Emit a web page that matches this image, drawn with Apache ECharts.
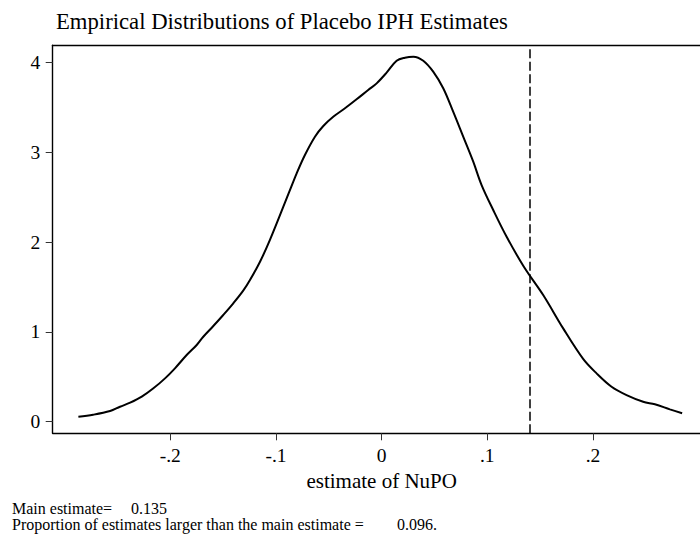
<!DOCTYPE html>
<html>
<head>
<meta charset="utf-8">
<script src="https://cdn.jsdelivr.net/npm/echarts@6/dist/echarts.min.js"></script>
<style>
  html, body { margin: 0; padding: 0; background: #ffffff; }
  #chart { width: 700px; height: 534px; }
</style>
</head>
<body>
<div id="chart"></div>
<script>
// Kernel density of placebo estimates
const titleText = 'Empirical Distributions of Placebo IPH Estimates';
const xAxisTitle = 'estimate of NuPO';

const estimateX = [
  -0.287, -0.273, -0.257, -0.2476, -0.238, -0.227, -0.216, -0.205, -0.1956, -0.1845,
  -0.175, -0.1688, -0.1593, -0.1499, -0.1404, -0.131, -0.1246, -0.1151, -0.1057, -0.0868,
  -0.0804, -0.0726, -0.0631, -0.0552, -0.0458, -0.0347, -0.0237, -0.0127, -0.0047, 0.0047,
  0.0142, 0.022, 0.030, 0.0394, 0.0488, 0.0583, 0.0677, 0.0772, 0.0867, 0.0946,
  0.1056, 0.1183, 0.1346, 0.1529, 0.1718, 0.1907, 0.2034, 0.2176, 0.2318, 0.2475,
  0.2586, 0.2728, 0.2844
];
const densityY = [
  0.056, 0.078, 0.119, 0.167, 0.212, 0.279, 0.372, 0.483, 0.595, 0.743,
  0.855, 0.947, 1.066, 1.189, 1.319, 1.460, 1.579, 1.783, 2.025, 2.58,
  2.768, 2.972, 3.176, 3.295, 3.398, 3.492, 3.592, 3.696, 3.770, 3.889,
  4.022, 4.056, 4.067, 4.022, 3.900, 3.715, 3.454, 3.176, 2.897, 2.637,
  2.359, 2.061, 1.727, 1.412, 1.04, 0.70, 0.539, 0.390, 0.297, 0.223,
  0.194, 0.138, 0.094
];

const xTicks = [-0.2, -0.1, 0, 0.1, 0.2];
const xTickLabels = ['-.2', '-.1', '0', '.1', '.2'];
const yTicks = [0, 1, 2, 3, 4];
const yTickLabels = ['0', '1', '2', '3', '4'];

const mainEstimate = 0.135;
const shareLarger = 0.096;

const FONT = '"Liberation Serif", "Times New Roman", serif';
const INK = '#000000';
const NOTE_FONT = '16px ' + FONT;

// x range: the plot region runs past the right edge of the canvas
const X_MIN = -0.3113;
const X_MAX = 0.3013;

const points = estimateX.map((x, i) => [x, densityY[i]]);

function tickText(values, labels) {
  return (v) => {
    const i = values.findIndex((t) => Math.abs(t - v) < 1e-9);
    return i >= 0 ? labels[i] : '';
  };
}

const chart = echarts.init(document.getElementById('chart'), null, { renderer: 'svg' });

chart.setOption({
  animation: false,
  backgroundColor: '#ffffff',
  title: {
    text: titleText,
    left: 56,
    top: 10,
    padding: 0,
    textStyle: { fontFamily: FONT, fontSize: 22.7, fontWeight: 'normal', color: INK }
  },
  grid: { left: 52.7, right: 0, top: 45.3, bottom: 100.7 },
  xAxis: [
    {
      type: 'value',
      min: X_MIN,
      max: X_MAX,
      name: xAxisTitle,
      nameLocation: 'middle',
      nameGap: 29,
      nameTextStyle: { fontFamily: FONT, fontSize: 21, color: INK, padding: [0, 0, 0, 10.7] },
      axisLine: { show: true, onZero: false, lineStyle: { color: INK, width: 1.4 } },
      axisTick: { show: true, inside: false, length: 7, customValues: xTicks, lineStyle: { color: '#333', width: 1 } },
      axisLabel: { show: true, margin: 12, customValues: xTicks, formatter: tickText(xTicks, xTickLabels),
                   fontFamily: FONT, fontSize: 19.5, color: INK },
      splitLine: { show: false }
    },
    {
      type: 'value',
      position: 'top',
      min: X_MIN,
      max: X_MAX,
      axisLine: { show: true, onZero: false, lineStyle: { color: INK, width: 1.4 } },
      axisTick: { show: false },
      axisLabel: { show: false },
      splitLine: { show: false }
    }
  ],
  yAxis: {
    type: 'value',
    min: -0.129,
    max: 4.194,
    axisLine: { show: true, onZero: false, lineStyle: { color: INK, width: 1.4 } },
    axisTick: { show: true, inside: false, length: 7, customValues: yTicks, lineStyle: { color: '#333', width: 1 } },
    axisLabel: { show: true, margin: 12.5, customValues: yTicks, formatter: tickText(yTicks, yTickLabels),
                 fontFamily: FONT, fontSize: 19.5, color: INK },
    splitLine: { show: false }
  },
  series: [
    {
      type: 'line',
      xAxisIndex: 0,
      data: points,
      smooth: 0.35,
      showSymbol: false,
      silent: true,
      lineStyle: { color: INK, width: 2 },
      markLine: {
        silent: true,
        symbol: ['none', 'none'],
        label: { show: false },
        lineStyle: { color: INK, width: 1.5, type: [9, 3.5] },
        data: [{ xAxis: mainEstimate }]
      }
    }
  ],
  graphic: [
    { type: 'text', x: 12, y: 508, style: { text: 'Main estimate=', font: NOTE_FONT, fill: INK, verticalAlign: 'middle' } },
    { type: 'text', x: 131, y: 508, style: { text: mainEstimate.toFixed(3), font: NOTE_FONT, fill: INK, verticalAlign: 'middle' } },
    { type: 'text', x: 12, y: 524, style: { text: 'Proportion of estimates larger than the main estimate =', font: NOTE_FONT, fill: INK, verticalAlign: 'middle' } },
    { type: 'text', x: 397, y: 524, style: { text: shareLarger.toFixed(3) + '.', font: NOTE_FONT, fill: INK, verticalAlign: 'middle' } }
  ]
});
</script>
</body>
</html>
